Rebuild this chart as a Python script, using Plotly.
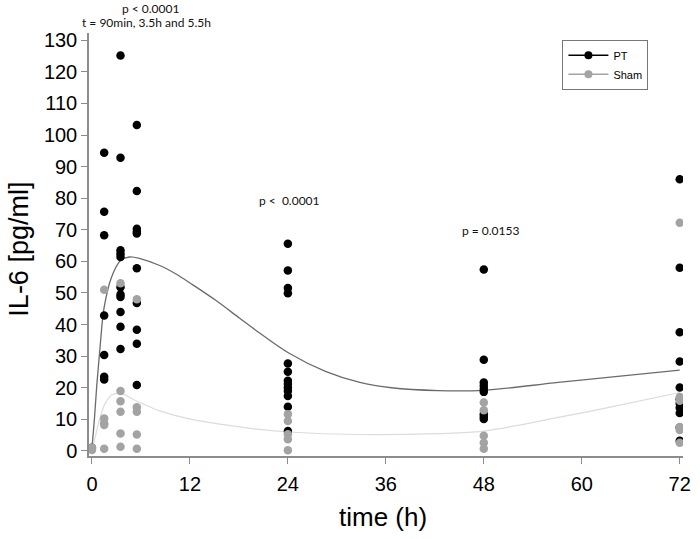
import plotly.graph_objects as go

# ---- data ----
time_points = [0, 1.5, 3.5, 5.5, 24, 48, 72]

pt_t0 = [1.0]
pt_t1_5 = [94.4, 75.7, 68.3, 42.9, 30.4, 23.5, 22.6]
pt_t3_5 = [125.2, 92.8, 63.5, 62.4, 61.4, 51.8, 49.5, 48.7, 44.0, 39.3, 32.3]
pt_t5_5 = [103.2, 82.3, 70.3, 69.4, 68.8, 57.8, 46.8, 38.4, 33.9, 20.9]
pt_t24 = [65.6, 57.1, 51.6, 49.9, 27.7, 25.1, 22.2, 21.2, 20.1, 19.0, 17.4, 14.0, 6.3]
pt_t48 = [57.4, 28.9, 21.7, 20.6, 19.6, 18.7, 11.6, 10.8, 10.1]
pt_t72 = [86.0, 58.0, 37.6, 28.3, 20.1, 16.4, 15.0, 13.7, 12.0, 7.4, 3.2]

sham_t0 = [0.6, 1.1, 0.3]
sham_t1_5 = [51.0, 10.3, 8.8, 8.2, 0.7]
sham_t3_5 = [53.1, 19.0, 15.7, 12.4, 5.5, 1.3]
sham_t5_5 = [48.0, 13.8, 12.4, 5.2, 0.7]
sham_t24 = [11.6, 9.5, 5.3, 3.7, 0.2]
sham_t48 = [15.3, 12.9, 4.8, 2.6, 0.7]
sham_t72 = [72.2, 17.1, 15.9, 7.6, 6.6, 2.6]

# fitted curves
pt_fit_t = [0, 0.3, 0.6, 1.0, 1.5, 2.4, 3.5, 4.6, 6.0, 8.3, 10.3, 12.4, 15.2, 18.1, 20.5, 24.1,
            28.6, 32.7, 36.7, 42.4, 48, 57.1, 63.2, 72]
pt_fit_v = [1.0, 10.0, 21.0, 33.0, 45.5, 55.0, 60.3, 61.4, 60.8, 58.7, 56.0, 52.5, 47.6, 42.0, 37.4, 31.0,
            25.2, 21.8, 20.0, 19.1, 19.2, 21.7, 23.3, 25.6]
sham_fit_t = [0, 0.5, 1.0, 1.6, 2.4, 3.5, 5.4, 8.3, 12.4, 18.1, 20.5, 24.1, 32.7, 42.4,
              48, 57.1, 63.2, 72]
sham_fit_v = [0.0, 5.5, 10.6, 14.9, 17.7, 18.2, 15.9, 12.7, 9.9, 7.6, 6.8, 6.0, 5.2, 5.5,
              6.3, 10.6, 13.7, 18.5]

x_ticks = [0, 12, 24, 36, 48, 60, 72]
y_ticks = list(range(0, 131, 10))

pt_groups = [pt_t0, pt_t1_5, pt_t3_5, pt_t5_5, pt_t24, pt_t48, pt_t72]
sham_groups = [sham_t0, sham_t1_5, sham_t3_5, sham_t5_5, sham_t24, sham_t48, sham_t72]


def flatten(groups):
    xs, ys = [], []
    for t, vals in zip(time_points, groups):
        xs += [t] * len(vals)
        ys += vals
    return xs, ys


pt_x, pt_y = flatten(pt_groups)
sham_x, sham_y = flatten(sham_groups)

PT_COLOR = "#000000"
SHAM_COLOR = "#a3a3a3"
AXIS_COLOR = "#8c8c8c"

fig = go.Figure()

fig.add_trace(go.Scatter(x=pt_fit_t, y=pt_fit_v, mode="lines", line=dict(color="#6b6b6b", width=1.3, shape="spline", smoothing=1.0),
                         showlegend=False, hoverinfo="skip"))
fig.add_trace(go.Scatter(x=sham_fit_t, y=sham_fit_v, mode="lines", line=dict(color="#dcdcdc", width=1.2, shape="spline", smoothing=1.0),
                         showlegend=False, hoverinfo="skip"))
fig.add_trace(go.Scatter(x=pt_x, y=pt_y, mode="markers", marker=dict(color=PT_COLOR, size=8.5),
                         showlegend=False, name="PT"))
fig.add_trace(go.Scatter(x=sham_x, y=sham_y, mode="markers", marker=dict(color=SHAM_COLOR, size=8.5),
                         showlegend=False, name="Sham"))
# legend entries
fig.add_trace(go.Scatter(x=[None], y=[None], mode="lines+markers", name="PT",
                         marker=dict(color=PT_COLOR, size=8), line=dict(color=PT_COLOR, width=1.5)))
fig.add_trace(go.Scatter(x=[None], y=[None], mode="lines+markers", name="Sham",
                         marker=dict(color=SHAM_COLOR, size=8), line=dict(color=SHAM_COLOR, width=1.5)))

ann_font = dict(family="Lato, Open Sans, sans-serif", size=12, color="#111111")

fig.update_layout(
    width=700, height=539,
    margin=dict(l=89, r=9, t=33, b=83),
    paper_bgcolor="white", plot_bgcolor="white",
    font=dict(family="Liberation Sans, Arial, sans-serif", color="#000000"),
    xaxis=dict(range=[-0.36, 72.4], tickvals=x_ticks, ticktext=[str(v) for v in x_ticks],
               showline=True, linecolor=AXIS_COLOR, linewidth=1.5, ticks="outside", ticklen=6,
               tickcolor=AXIS_COLOR, tickwidth=1.2, showgrid=False, zeroline=False,
               tickfont=dict(size=20), ticklabelstandoff=3),
    yaxis=dict(range=[-1.6, 132.3], tickvals=y_ticks, ticktext=[str(v) for v in y_ticks],
               showline=True, linecolor=AXIS_COLOR, linewidth=1.5, ticks="outside", ticklen=6,
               tickcolor=AXIS_COLOR, tickwidth=1.2, showgrid=False, zeroline=False,
               tickfont=dict(size=20)),
    legend=dict(x=0.797, y=0.984, xanchor="left", yanchor="top", bordercolor="#777777", borderwidth=1,
                font=dict(size=11, family="Liberation Sans, Arial, sans-serif"), bgcolor="white",
                itemwidth=40, tracegroupgap=0),
    annotations=[
        dict(text="IL-6 [pg/ml]", xref="paper", yref="paper", x=-0.118, y=0.49, textangle=-90,
             showarrow=False, font=dict(size=27, family="Liberation Sans, Arial, sans-serif"),
             xanchor="center", yanchor="middle"),
        dict(text="time (h)", xref="paper", yref="paper", x=0.495, y=-0.145,
             showarrow=False, font=dict(size=26, family="Liberation Sans, Arial, sans-serif"),
             xanchor="center", yanchor="middle"),
        dict(text="p < 0.0001", xref="paper", yref="paper", x=0.105, y=1.057, showarrow=False,
             font=ann_font, xanchor="center", yanchor="middle"),
        dict(text="t = 90min, 3.5h and 5.5h", xref="paper", yref="paper", x=0.097, y=1.026, showarrow=False,
             font=ann_font, xanchor="center", yanchor="middle"),
        dict(text="p &lt;  0.0001", xref="paper", yref="paper", x=0.338, y=0.603, showarrow=False,
             font=ann_font, xanchor="center", yanchor="middle"),
        dict(text="p = 0.0153", xref="paper", yref="paper", x=0.677, y=0.534, showarrow=False,
             font=ann_font, xanchor="center", yanchor="middle"),
    ],
)

fig.write_html("out.html", config={"displayModeBar": False},
               post_script="document.body.style.margin='0';document.body.style.padding='0';")
